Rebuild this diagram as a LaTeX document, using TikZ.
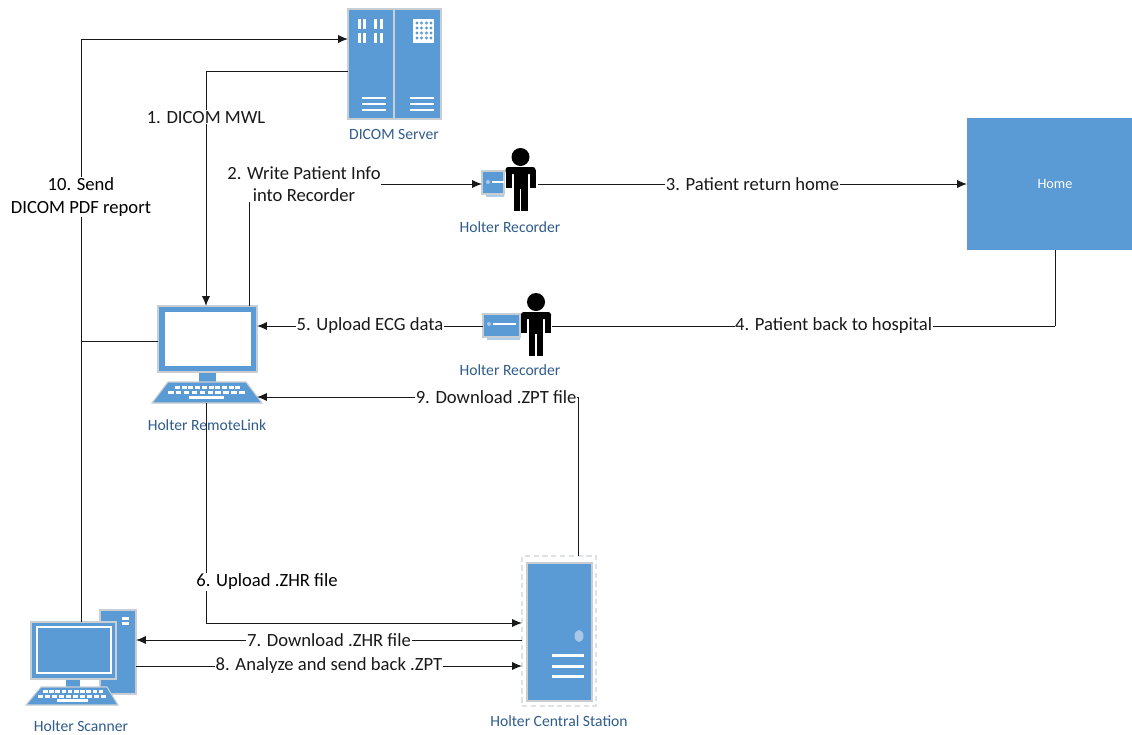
\documentclass[tikz,border=0pt]{standalone}
\usepackage{fontspec}
\setmainfont{Carlito}
\usetikzlibrary{arrows.meta}

\definecolor{devblue}{HTML}{5B9BD5}
\definecolor{devedge}{HTML}{C9CED3}
\definecolor{capblue}{HTML}{2F5C8C}
\definecolor{ledblue}{HTML}{A9C7E6}
\def\px{0.02cm}

\tikzset{
  box/.style={fill=devblue,draw=devedge,line width=0.9pt,inner sep=0pt,outer sep=0pt},
  ghost/.style={inner sep=0pt,outer sep=0pt},
  caption/.style={text=capblue,font=\fontsize{8.9}{10}\selectfont,inner sep=0pt},
  link/.style={line width=0.55pt,line cap=rect,color=black!90},
  tolink/.style={link,-{Latex[length=5.6pt,width=4.6pt]}},
  flow/.style={fill=white,font=\fontsize{10.6}{12.6}\selectfont,align=center,inner sep=0.4pt},
  person/.pic={
    \fill[black] (0,0) circle (9);
    \fill[black,rounded corners=1.5pt] (-15,10) rectangle (15,17);
    \fill[black] (-15,13) rectangle (-9,31);
    \fill[black] (9,13) rectangle (15,31);
    \fill[black] (-7,12) rectangle (7,32);
    \fill[black] (-7,32) rectangle (-0.6,54);
    \fill[black] (0.6,32) rectangle (7,54);
  }
}

\begin{document}
\begin{tikzpicture}[x=\px,y=-\px]
\clip (0,0) rectangle (1132,734);

%% dicom server
   \node [box,minimum width=93*\px,minimum height=110*\px] (server) at (394.5,64) {};
   \draw [color=devedge,line width=0.9pt] (394,9) -- (394,119);
   \foreach \x in {357.5,363.2,373.5,379.5} {
      \fill [white] (\x,19) rectangle (\x+3.2,29);
      \fill [white] (\x,33) rectangle (\x+3.2,43);
   }
   \foreach \y in {98,104,110} {
      \fill [white] (362,\y-1) rectangle (386,\y+1);
      \fill [white] (410,\y-1) rectangle (434,\y+1);
   }
   %grille
   \fill [white] (413,19) rectangle (434,43);
   \foreach \x in {417,421.5,426.5,431} {
      \foreach \y in {23,28,33,38} {
         \fill [devblue] (\x,\y) circle (1.7);
      }
   }
   \node [caption] (serverlabel) at (394,134) {DICOM Server};

%% first recorder
   \fill [devblue!50] (486,176) rectangle (504,197);
   \node [box,minimum width=22*\px,minimum height=23*\px] (deviceA) at (493,182.5) {};
   \fill [ledblue] (488,182) circle (2);
   \fill [white] (492,181) rectangle (504,183);
   \node [ghost,minimum width=56*\px,minimum height=63*\px] (recorderA) at (510,179.5) {};
   \pic at (520.5,157) {person};
   \node [caption] (recorderAlabel) at (510,227) {Holter Recorder};

%% second recorder
   \fill [devblue!50] (487,320) rectangle (520,340);
   \node [box,minimum width=37*\px,minimum height=23*\px] (deviceB) at (501.5,325.5) {};
   \fill [ledblue] (489,324) circle (2);
   \fill [white] (493,323) rectangle (516,325);
   \node [ghost,minimum width=69*\px,minimum height=62*\px] (recorderB) at (517.5,324) {};
   \pic at (536,302) {person};
   \node [caption] (recorderBlabel) at (510,370) {Holter Recorder};

%% home
   \node [box,draw=none,text=white,font=\fontsize{8.1}{10}\selectfont,minimum width=176*\px,minimum height=132*\px] (home) at (1055,184) {Home};

%% remote link
   \fill [devblue] (199,372) rectangle (216,383);
   \fill [devblue,draw=devedge,line width=0.6pt] (168,382) -- (246,382) -- (262,403) -- (152,403) -- cycle;
   \node [box,minimum width=99*\px,minimum height=66*\px] (remotelink) at (207.5,339) {};
   \fill [white] (165,312) rectangle (251,366);
   \foreach \x in {0,...,9} {
      \fill [white] (175+\x*6.7,386) rectangle (180+\x*6.7,389);
      \fill [white] (168+\x*7.9,391) rectangle (173.5+\x*7.9,394);
   }
   \fill [white] (189,396) rectangle (224,399);
   \coordinate (remotekeys) at (206,403);
   \coordinate (remotein) at (257,397);
   \node [caption] (remotelabel) at (207,425) {Holter RemoteLink};

%% scanner
   \node [box,minimum width=36*\px,minimum height=84*\px] (tower) at (118,652) {};
   \fill [white] (122,617) rectangle (129,620);
   \fill [white] (122,622) rectangle (129,625);
   \fill [devblue] (66,679) rectangle (80,688);
   \fill [devblue,draw=devedge,line width=0.6pt] (41,687) -- (107,687) -- (118,705) -- (26,705) -- cycle;
   \node [box,minimum width=85*\px,minimum height=57*\px] (scanner) at (73.5,650.5) {};
   \draw [white,line width=0.6pt] (37,627) rectangle (111,673);
   \foreach \x in {0,...,9} {
      \fill [white] (43+\x*6.2,690) rectangle (47.5+\x*6.2,693);
      \fill [white] (38+\x*7,694.5) rectangle (43+\x*7,697.5);
   }
   \fill [white] (57,699) rectangle (88,702);
   \node [caption] (scannerlabel) at (81,726.5) {Holter Scanner};

%% central station
   \node [ghost,draw=devedge!60,densely dashed,line width=0.6pt,minimum width=74*\px,minimum height=150*\px] (station) at (559,631) {};
   \node [box,minimum width=65*\px,minimum height=138*\px] (stationbody) at (559.5,632) {};
   \fill [ledblue] (579,636) ellipse (4.5 and 6);
   \foreach \y in {655,666,676} {
      \fill [white] (552,\y-1.5) rectangle (584,\y+1.5);
   }
   \node [caption] (stationlabel) at (559,721) {Holter Central Station};

%% connectors
   \draw [tolink] (scanner.north -| 81,0) -- (81,39) -- (server.west |- 0,39);
   \draw [link] (81,341) -- (remotelink.west |- 0,341);
   \node [flow] (send) at (81,197) {10. Send\\DICOM PDF report};

   \draw [link] (server.west |- 0,71) -- (206,71);
   \draw [tolink] (206,71) -- node [flow,pos=.196] (mwl) {1. DICOM MWL} (remotelink.north -| 206,0);

   \draw [link] (remotelink.north -| 249,0) -- (249,184);
   \draw [tolink] (249,184) -- node [flow,pos=.236] (write) {2. Write Patient Info\\into Recorder} (recorderA.west |- 0,184);

   \draw [tolink] (recorderA.east |- 0,184) -- node [flow] (back) {3. Patient return home} (home.west);

   \draw [link] (home.south) -- (1055,326);
   \draw [link] (1055,326) -- node [flow,pos=.44] (hospital) {4. Patient back to hospital} (recorderB.east |- 0,326);

   \draw [tolink] (recorderB.west |- 0,326) -- node [flow] (upload) {5. Upload ECG data} (remotelink.east |- 0,326);

   \draw [link] (station.north -| 578,0) -- (578,397);
   \draw [tolink] (578,397) -- node [flow,pos=.255] (zpt) {9. Download .ZPT file} (remotein);

   \draw [link] (remotekeys) -- (206,623);
   \draw [tolink] (206,623) -- (station.west |- 0,623);
   \node [flow] (zhr) at (267,582) {6. Upload .ZHR file};

   \draw [tolink] (station.west |- 0,640) -- node [flow] (down) {7. Download .ZHR file} (tower.east |- 0,640);
   \draw [tolink] (tower.east |- 0,666) -- node [flow] (analyze) {8. Analyze and send back .ZPT} (station.west |- 0,666);

\end{tikzpicture}
\end{document}
